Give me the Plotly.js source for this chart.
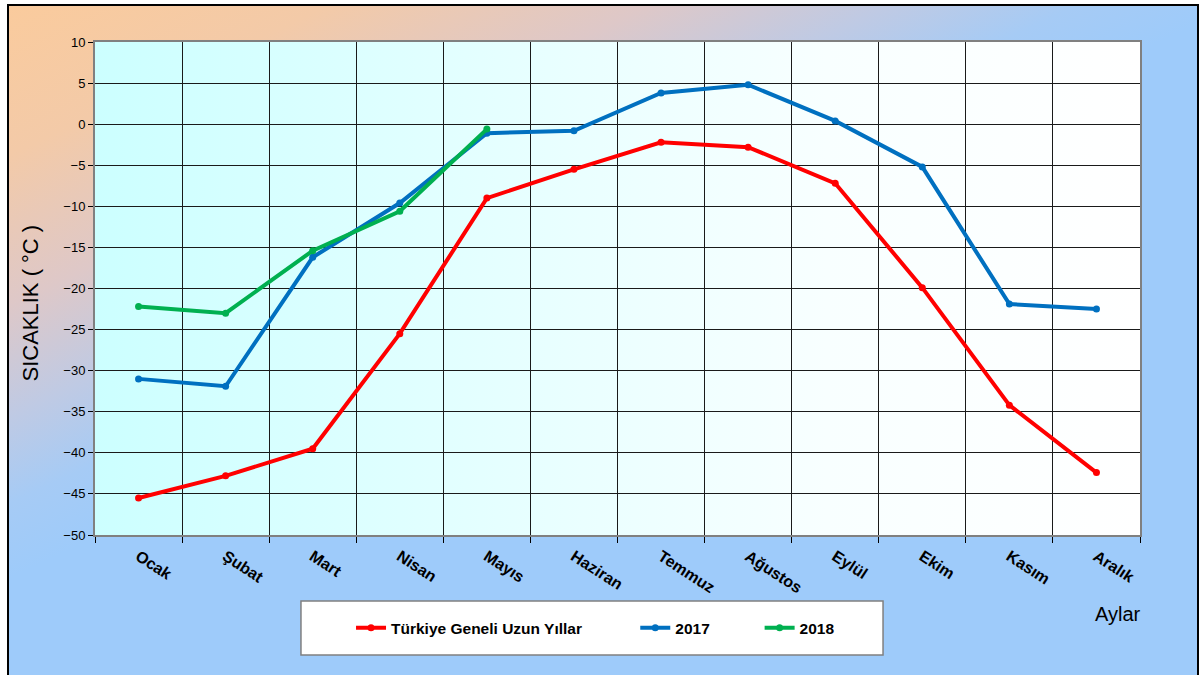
<!DOCTYPE html>
<html>
<head>
<meta charset="utf-8">
<script src="https://cdn.plot.ly/plotly-3.0.1.min.js"></script>
<style>
  html, body { margin: 0; padding: 0; background: #ffffff; width: 1199px; height: 675px; overflow: hidden; }
  #frame { position: absolute; left: 7px; top: 4px; width: 1188px; height: 690px; border: 2px solid #000;
           background: linear-gradient(155deg, #FACB9D 0%, #F3CAA8 12%, #DEC8C8 24%, #BFCAE4 33%, #A6CBF5 40%, #9ECBFA 46%, #9ECBFA 100%); }
  #plotbg { position: absolute; left: 95px; top: 42px; width: 1045px; height: 493px;
            background: linear-gradient(to right, #CCFFFF 0%, #E6FFFF 40%, #F8FFFF 70%, #FFFFFF 100%); }
  #chart { position: absolute; left: 0; top: 0; width: 1199px; height: 675px; }
</style>
</head>
<body>
<div id="frame"></div>
<div id="plotbg"></div>
<div id="chart"></div>
<script>
const months = ["Ocak", "Şubat", "Mart", "Nisan", "Mayıs", "Haziran", "Temmuz", "Ağustos", "Eylül", "Ekim", "Kasım", "Aralık"];
const longTerm = [-45.5, -42.8, -39.5, -25.5, -9.0, -5.5, -2.2, -2.8, -7.2, -19.9, -34.2, -42.4];
const y2017 = [-31.0, -31.9, -16.2, -9.6, -1.1, -0.8, 3.8, 4.8, 0.4, -5.2, -21.9, -22.5];
const y2018 = [-22.2, -23.0, -15.4, -10.6, -0.6];
const seriesNames = ["Türkiye Geneli Uzun Yıllar", "2017", "2018"];
const yTitle = "SICAKLIK ( °C )";
const xTitle = "Aylar";

const lineW = 4;
const mk = 7;
const traces = [
  { x: months, y: longTerm, name: seriesNames[0], type: "scatter", mode: "lines+markers",
    line: { color: "#FF0000", width: lineW }, marker: { color: "#FF0000", size: mk }, legend: "legend" },
  { x: months, y: y2017, name: seriesNames[1], type: "scatter", mode: "lines+markers",
    line: { color: "#0070C0", width: lineW }, marker: { color: "#0070C0", size: mk }, legend: "legend2" },
  { x: months.slice(0, y2018.length), y: y2018, name: seriesNames[2], type: "scatter", mode: "lines+markers",
    line: { color: "#00B050", width: lineW }, marker: { color: "#00B050", size: mk }, legend: "legend3" }
];

const legFont = { family: "Liberation Sans, Arial, sans-serif", size: 15.5, color: "#000", weight: "bold" };
const legBase = { orientation: "h", bgcolor: "rgba(0,0,0,0)", borderwidth: 0, font: legFont,
                  xanchor: "left", yanchor: "middle", y: -0.189, itemwidth: 30 };

const layout = {
  width: 1199, height: 675,
  margin: { l: 95, r: 59, t: 42, b: 140 },
  paper_bgcolor: "rgba(0,0,0,0)",
  plot_bgcolor: "rgba(0,0,0,0)",
  font: { family: "Liberation Sans, Arial, sans-serif", color: "#000" },
  showlegend: true,
  xaxis: {
    type: "category", range: [-0.5, 11.5], tickson: "boundaries",
    ticks: "outside", ticklen: 6, tickcolor: "#000", tickwidth: 1,
    tickangle: 33, ticklabelstandoff: 4,
    tickfont: { family: "Liberation Sans, Arial, sans-serif", size: 16, color: "#000", weight: "bold" },
    showgrid: true, gridcolor: "#1a1a1a", gridwidth: 1,
    showline: true, linecolor: "#808080", linewidth: 2, mirror: true,
    fixedrange: true
  },
  yaxis: {
    range: [-50, 10], dtick: 5, tick0: 0,
    ticks: "outside", ticklen: 5, tickcolor: "#000", tickwidth: 1,
    tickfont: { family: "Liberation Sans, Arial, sans-serif", size: 13, color: "#000" },
    showgrid: true, gridcolor: "#1a1a1a", gridwidth: 1, zeroline: false,
    showline: true, linecolor: "#808080", linewidth: 2, mirror: true,
    fixedrange: true
  },
  legend: Object.assign({}, legBase, { x: 0.245 }),
  legend2: Object.assign({}, legBase, { x: 0.517 }),
  legend3: Object.assign({}, legBase, { x: 0.636 }),
  shapes: [
    { type: "rect", xref: "paper", yref: "paper", x0: 0.1971, x1: 0.7541, y0: -0.2434, y1: -0.1339,
      fillcolor: "#FFFFFF", line: { color: "#808080", width: 1.5 }, layer: "below" }
  ],
  annotations: [
    { text: yTitle, xref: "paper", yref: "paper", x: -0.0617, y: 0.4706, textangle: -90, showarrow: false,
      xanchor: "center", yanchor: "middle",
      font: { family: "Liberation Sans, Arial, sans-serif", size: 22, color: "#000" } },
    { text: xTitle, xref: "paper", yref: "paper", x: 0.979, y: -0.160, showarrow: false,
      xanchor: "center", yanchor: "middle",
      font: { family: "Liberation Sans, Arial, sans-serif", size: 20, color: "#000" } }
  ]
};

Plotly.newPlot("chart", traces, layout, { displayModeBar: false, staticPlot: true });
</script>
</body>
</html>
